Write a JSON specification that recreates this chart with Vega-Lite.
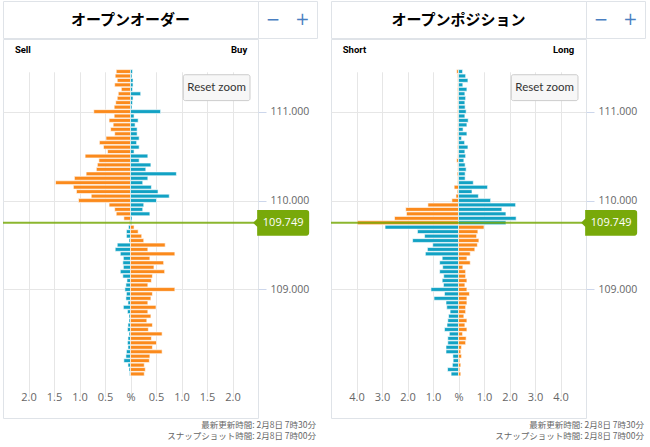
{
  "$schema": "https://vega.github.io/schema/vega-lite/v6.json",
  "padding": {"left": 1, "top": 0, "right": 0, "bottom": 0},
  "spacing": 11,
  "datasets": {
    "orders": [
      {"p":111.45,"s":-0.28,"b":0.04},{"p":111.40,"s":-0.30,"b":0.03},{"p":111.35,"s":-0.26,"b":0.05},{"p":111.30,"s":-0.31,"b":0.05},
      {"p":111.25,"s":-0.18,"b":0.04},{"p":111.20,"s":-0.24,"b":0.20},{"p":111.15,"s":-0.26,"b":0.05},{"p":111.10,"s":-0.29,"b":0.04},
      {"p":111.05,"s":-0.32,"b":0.03},{"p":111.00,"s":-0.72,"b":0.59},{"p":110.95,"s":-0.32,"b":0.07},{"p":110.90,"s":-0.42,"b":0.15},
      {"p":110.85,"s":-0.34,"b":0.09},{"p":110.80,"s":-0.39,"b":0.13},{"p":110.75,"s":-0.31,"b":0.13},{"p":110.70,"s":-0.48,"b":0.17},
      {"p":110.65,"s":-0.61,"b":0.12},{"p":110.60,"s":-0.53,"b":0.17},{"p":110.55,"s":-0.45,"b":0.07},{"p":110.50,"s":-0.89,"b":0.34},
      {"p":110.45,"s":-0.62,"b":0.17},{"p":110.40,"s":-0.65,"b":0.40},{"p":110.35,"s":-0.67,"b":0.30},{"p":110.30,"s":-0.87,"b":0.90},
      {"p":110.25,"s":-1.10,"b":0.34},{"p":110.20,"s":-1.47,"b":0.24},{"p":110.15,"s":-1.12,"b":0.41},{"p":110.10,"s":-1.06,"b":0.54},
      {"p":110.05,"s":-0.77,"b":0.76},{"p":110.00,"s":-1.02,"b":0.51},{"p":109.95,"s":-0.42,"b":0.26},{"p":109.90,"s":-0.31,"b":0.24},
      {"p":109.85,"s":-0.28,"b":0.38},{"p":109.80,"s":-0.13,"b":0.03},{"p":109.75,"s":-0.02,"b":0.02},{"p":109.70,"s":-0.04,"b":0.07},
      {"p":109.65,"s":-0.08,"b":0.15},{"p":109.60,"s":-0.08,"b":0.22},{"p":109.55,"s":-0.03,"b":0.26},{"p":109.50,"s":-0.26,"b":0.68},
      {"p":109.45,"s":-0.30,"b":0.34},{"p":109.40,"s":-0.20,"b":0.87},{"p":109.35,"s":-0.14,"b":0.38},{"p":109.30,"s":-0.15,"b":0.65},
      {"p":109.25,"s":-0.14,"b":0.46},{"p":109.20,"s":-0.20,"b":0.67},{"p":109.15,"s":-0.15,"b":0.43},{"p":109.10,"s":-0.07,"b":0.41},
      {"p":109.05,"s":-0.09,"b":0.34},{"p":109.00,"s":-0.11,"b":0.87},{"p":108.95,"s":-0.08,"b":0.43},{"p":108.90,"s":-0.09,"b":0.40},
      {"p":108.85,"s":-0.05,"b":0.34},{"p":108.80,"s":-0.14,"b":0.50},{"p":108.75,"s":-0.06,"b":0.34},{"p":108.70,"s":-0.03,"b":0.40},
      {"p":108.65,"s":-0.03,"b":0.32},{"p":108.60,"s":-0.05,"b":0.43},{"p":108.55,"s":-0.06,"b":0.35},{"p":108.50,"s":-0.03,"b":0.62},
      {"p":108.45,"s":-0.05,"b":0.41},{"p":108.40,"s":-0.06,"b":0.51},{"p":108.35,"s":-0.05,"b":0.43},{"p":108.30,"s":-0.08,"b":0.62},
      {"p":108.25,"s":-0.09,"b":0.38},{"p":108.20,"s":-0.13,"b":0.37},{"p":108.15,"s":-0.05,"b":0.27},{"p":108.10,"s":-0.03,"b":0.29},
      {"p":108.05,"s":-0.02,"b":0.27}
    ],
    "positions": [
      {"p":111.45,"s":-0.07,"b":0.16},{"p":111.40,"s":-0.04,"b":0.28},{"p":111.35,"s":-0.03,"b":0.37},{"p":111.30,"s":-0.03,"b":0.17},
      {"p":111.25,"s":-0.04,"b":0.33},{"p":111.20,"s":-0.03,"b":0.25},{"p":111.15,"s":-0.04,"b":0.28},{"p":111.10,"s":-0.03,"b":0.25},
      {"p":111.05,"s":-0.03,"b":0.26},{"p":111.00,"s":-0.04,"b":0.30},{"p":110.95,"s":-0.03,"b":0.25},{"p":110.90,"s":-0.03,"b":0.38},
      {"p":110.85,"s":-0.03,"b":0.33},{"p":110.80,"s":-0.03,"b":0.18},{"p":110.75,"s":-0.04,"b":0.33},{"p":110.70,"s":-0.03,"b":0.12},
      {"p":110.65,"s":-0.03,"b":0.24},{"p":110.60,"s":-0.04,"b":0.37},{"p":110.55,"s":-0.03,"b":0.25},{"p":110.50,"s":-0.03,"b":0.28},
      {"p":110.45,"s":-0.07,"b":0.21},{"p":110.40,"s":-0.03,"b":0.26},{"p":110.35,"s":-0.03,"b":0.30},{"p":110.30,"s":-0.05,"b":0.26},
      {"p":110.25,"s":-0.03,"b":0.26},{"p":110.20,"s":-0.04,"b":0.58},{"p":110.15,"s":-0.17,"b":1.14},{"p":110.10,"s":-0.05,"b":0.53},
      {"p":110.05,"s":-0.10,"b":0.78},{"p":110.00,"s":-0.26,"b":1.26},{"p":109.95,"s":-1.20,"b":2.24},{"p":109.90,"s":-2.07,"b":1.70},
      {"p":109.85,"s":-2.04,"b":1.86},{"p":109.80,"s":-2.51,"b":2.26},{"p":109.75,"s":-3.97,"b":1.86},{"p":109.70,"s":-2.88,"b":1.00},
      {"p":109.65,"s":-1.61,"b":0.76},{"p":109.60,"s":-1.33,"b":0.71},{"p":109.55,"s":-1.80,"b":0.80},{"p":109.50,"s":-1.01,"b":0.74},
      {"p":109.45,"s":-1.22,"b":0.64},{"p":109.40,"s":-1.30,"b":0.46},{"p":109.35,"s":-0.64,"b":0.33},{"p":109.30,"s":-0.74,"b":0.46},
      {"p":109.25,"s":-0.62,"b":0.17},{"p":109.20,"s":-0.74,"b":0.28},{"p":109.15,"s":-0.58,"b":0.28},{"p":109.10,"s":-0.64,"b":0.33},
      {"p":109.05,"s":-0.59,"b":0.25},{"p":109.00,"s":-1.08,"b":0.33},{"p":108.95,"s":-0.55,"b":0.43},{"p":108.90,"s":-0.96,"b":0.33},
      {"p":108.85,"s":-0.49,"b":0.33},{"p":108.80,"s":-0.46,"b":0.28},{"p":108.75,"s":-0.33,"b":0.28},{"p":108.70,"s":-0.39,"b":0.21},
      {"p":108.65,"s":-0.42,"b":0.33},{"p":108.60,"s":-0.45,"b":0.25},{"p":108.55,"s":-0.55,"b":0.33},{"p":108.50,"s":-0.36,"b":0.16},
      {"p":108.45,"s":-0.42,"b":0.30},{"p":108.40,"s":-0.42,"b":0.28},{"p":108.35,"s":-0.49,"b":0.12},{"p":108.30,"s":-0.49,"b":0.09},
      {"p":108.25,"s":-0.22,"b":0.12},{"p":108.20,"s":-0.21,"b":0.05},{"p":108.15,"s":-0.24,"b":0.09},{"p":108.10,"s":-0.43,"b":0.05},
      {"p":108.05,"s":-0.29,"b":0.09}
    ],
    "current": [{"price": 109.749}]
  },
  "hconcat": [
    {
      "spacing": -4,
      "vconcat": [
        {
          "spacing": 0,
          "bounds": "flush",
          "hconcat": [
            {
              "width": 255, "height": 37,
              "view": {"stroke": "#dfe3e8"},
              "data": {"values": [{"t": "オープンオーダー"}]},
              "mark": {"type": "text", "font": "Noto Sans CJK JP", "fontSize": 15, "fontWeight": "bold", "color": "#000000"},
              "encoding": {
                "x": {"datum": 0, "type": "quantitative", "scale": {"domain": [-1, 1]}, "axis": null},
                "text": {"field": "t"}
              }
            },
            {
              "width": 59, "height": 37,
              "view": {"stroke": "#dfe3e8"},
              "data": {"values": [{"b": "−"}, {"b": "+"}]},
              "mark": {"type": "text", "font": "DejaVu Sans", "fontSize": 17, "color": "#4a7fc1"},
              "encoding": {
                "x": {"field": "b", "type": "nominal", "scale": {"type": "point", "padding": 0.5, "domain": ["−", "+"]}, "axis": null},
                "text": {"field": "b"}
              }
            }
          ]
        },
        {
          "width": 255, "height": 379,
          "title": {"text": ["最新更新時間: 2月8日 7時30分", "スナップショット時間: 2月8日 7時00分"], "orient": "bottom", "anchor": "end", "frame": "group", "dx": 58, "font": "Noto Sans CJK JP", "fontSize": 8.5, "fontWeight": "normal", "color": "#666666", "lineHeight": 10.5, "offset": 3},
          "resolve": {"axis": {"x": "independent", "y": "independent"}},
          "layer": [
            {
              "data": {"name": "orders"},
              "mark": {"type": "bar", "size": 3.8, "stroke": "#ffffff", "strokeWidth": 0.6},
              "encoding": {
                "x": {"field": "s", "type": "quantitative", "scale": {"domain": [-2.5, 2.5], "nice": false, "zero": false},
                      "axis": {"orient": "bottom", "values": [-2, -1.5, -1, -0.5, 0, 0.5, 1, 1.5, 2], "labelExpr": "datum.value == 0 ? '%' : format(abs(datum.value), '.1f')", "offset": -29, "labelPadding": 2, "ticks": false, "domain": false, "grid": true, "title": null, "labelFlush": false}},
                "x2": {"datum": 0},
                "y": {"field": "p", "type": "quantitative", "scale": {"domain": [107.98, 111.52], "range": [346.2, 21.3], "nice": false, "zero": false},
                      "axis": {"orient": "right", "values": [109, 110, 111], "format": ".3f", "ticks": true, "tickSize": 8, "tickColor": "#ccd6eb", "labelPadding": 4, "labelFontSize": 10.5, "domain": false, "grid": true, "title": null}},
                "color": {"condition": {"test": "datum.p > 109.749", "value": "#fb8a1c"}, "value": "#12a2c4"}
              }
            },
            {
              "data": {"name": "orders"},
              "mark": {"type": "bar", "size": 3.8, "stroke": "#ffffff", "strokeWidth": 0.6},
              "encoding": {
                "x": {"field": "b", "type": "quantitative",
                      "axis": {"orient": "top", "values": [-2.12, 2.12], "labelExpr": "datum.value < 0 ? 'Sell' : 'Buy'", "offset": -15, "labelPadding": 1.5, "labelBaseline": "alphabetic", "ticks": false, "domain": false, "grid": false, "title": null, "labelFlush": false, "labelFont": "Roboto", "labelFontWeight": "bold", "labelFontSize": 9.5, "labelColor": "#000000"}},
                "x2": {"datum": 0},
                "y": {"field": "p", "type": "quantitative", "axis": null},
                "color": {"condition": {"test": "datum.p > 109.749", "value": "#12a2c4"}, "value": "#fb8a1c"}
              }
            },
            {
              "data": {"name": "current"},
              "mark": {"type": "rule", "color": "#78a90a", "strokeWidth": 2, "opacity": 0.85},
              "encoding": {"y": {"field": "price", "type": "quantitative", "axis": null}}
            },
            {
              "data": {"name": "current"},
              "mark": {"type": "point", "shape": "M-1,0L-0.857,-0.143L-0.857,-0.457L0.9,-0.457Q1,-0.457 1,-0.357L1,0.357Q1,0.457 0.9,0.457L-0.857,0.457L-0.857,0.143Z", "size": 3136, "filled": true, "color": "#78a90a", "opacity": 1, "strokeWidth": 0},
              "encoding": {"x": {"datum": 2.954, "axis": null}, "y": {"field": "price", "type": "quantitative", "axis": null}}
            },
            {
              "data": {"name": "current"},
              "mark": {"type": "text", "color": "#ffffff", "font": "Open Sans", "fontSize": 11},
              "encoding": {"x": {"datum": 2.993, "axis": null}, "y": {"field": "price", "type": "quantitative", "axis": null}, "text": {"field": "price", "type": "quantitative", "format": ".3f"}}
            },
            {
              "data": {"values": [{"label": "Reset zoom"}]},
              "mark": {"type": "rect", "fill": "#f7f7f7", "stroke": "#cccccc", "strokeWidth": 1, "cornerRadius": 2},
              "encoding": {"x": {"datum": 1.035, "axis": null}, "x2": {"datum": 2.343}, "y": {"datum": 111.414, "axis": null}, "y2": {"datum": 111.123}}
            },
            {
              "data": {"values": [{"label": "Reset zoom"}]},
              "mark": {"type": "text", "color": "#333333", "font": "Lato", "fontSize": 11.5},
              "encoding": {"x": {"datum": 1.689, "axis": null}, "y": {"datum": 111.268, "axis": null}, "text": {"field": "label"}}
            }
          ]
        }
      ]
    },
    {
      "spacing": -4,
      "vconcat": [
        {
          "spacing": 0,
          "bounds": "flush",
          "hconcat": [
            {
              "width": 255, "height": 37,
              "view": {"stroke": "#dfe3e8"},
              "data": {"values": [{"t": "オープンポジション"}]},
              "mark": {"type": "text", "font": "Noto Sans CJK JP", "fontSize": 15, "fontWeight": "bold", "color": "#000000"},
              "encoding": {
                "x": {"datum": 0, "type": "quantitative", "scale": {"domain": [-1, 1]}, "axis": null},
                "text": {"field": "t"}
              }
            },
            {
              "width": 59, "height": 37,
              "view": {"stroke": "#dfe3e8"},
              "data": {"values": [{"b": "−"}, {"b": "+"}]},
              "mark": {"type": "text", "font": "DejaVu Sans", "fontSize": 17, "color": "#4a7fc1"},
              "encoding": {
                "x": {"field": "b", "type": "nominal", "scale": {"type": "point", "padding": 0.5, "domain": ["−", "+"]}, "axis": null},
                "text": {"field": "b"}
              }
            }
          ]
        },
        {
          "width": 255, "height": 379,
          "title": {"text": ["最新更新時間: 2月8日 7時30分", "スナップショット時間: 2月8日 7時00分"], "orient": "bottom", "anchor": "end", "frame": "group", "dx": 58, "font": "Noto Sans CJK JP", "fontSize": 8.5, "fontWeight": "normal", "color": "#666666", "lineHeight": 10.5, "offset": 3},
          "resolve": {"axis": {"x": "independent", "y": "independent"}},
          "layer": [
            {
              "data": {"name": "positions"},
              "mark": {"type": "bar", "size": 3.8, "stroke": "#ffffff", "strokeWidth": 0.6},
              "encoding": {
                "x": {"field": "s", "type": "quantitative", "scale": {"domain": [-5, 5], "nice": false, "zero": false},
                      "axis": {"orient": "bottom", "values": [-4, -3, -2, -1, 0, 1, 2, 3, 4], "labelExpr": "datum.value == 0 ? '%' : format(abs(datum.value), '.1f')", "offset": -29, "labelPadding": 2, "ticks": false, "domain": false, "grid": true, "title": null, "labelFlush": false}},
                "x2": {"datum": 0},
                "y": {"field": "p", "type": "quantitative", "scale": {"domain": [107.98, 111.52], "range": [346.2, 21.3], "nice": false, "zero": false},
                      "axis": {"orient": "right", "values": [109, 110, 111], "format": ".3f", "ticks": true, "tickSize": 8, "tickColor": "#ccd6eb", "labelPadding": 4, "labelFontSize": 10.5, "domain": false, "grid": true, "title": null}},
                "color": {"condition": {"test": "datum.p > 109.749", "value": "#fb8a1c"}, "value": "#12a2c4"}
              }
            },
            {
              "data": {"name": "positions"},
              "mark": {"type": "bar", "size": 3.8, "stroke": "#ffffff", "strokeWidth": 0.6},
              "encoding": {
                "x": {"field": "b", "type": "quantitative",
                      "axis": {"orient": "top", "values": [-4.1, 4.1], "labelExpr": "datum.value < 0 ? 'Short' : 'Long'", "offset": -15, "labelPadding": 1.5, "labelBaseline": "alphabetic", "ticks": false, "domain": false, "grid": false, "title": null, "labelFlush": false, "labelFont": "Roboto", "labelFontWeight": "bold", "labelFontSize": 9.5, "labelColor": "#000000"}},
                "x2": {"datum": 0},
                "y": {"field": "p", "type": "quantitative", "axis": null},
                "color": {"condition": {"test": "datum.p > 109.749", "value": "#12a2c4"}, "value": "#fb8a1c"}
              }
            },
            {
              "data": {"name": "current"},
              "mark": {"type": "rule", "color": "#78a90a", "strokeWidth": 2, "opacity": 0.85},
              "encoding": {"y": {"field": "price", "type": "quantitative", "axis": null}}
            },
            {
              "data": {"name": "current"},
              "mark": {"type": "point", "shape": "M-1,0L-0.857,-0.143L-0.857,-0.457L0.9,-0.457Q1,-0.457 1,-0.357L1,0.357Q1,0.457 0.9,0.457L-0.857,0.457L-0.857,0.143Z", "size": 3136, "filled": true, "color": "#78a90a", "opacity": 1, "strokeWidth": 0},
              "encoding": {"x": {"datum": 5.908, "axis": null}, "y": {"field": "price", "type": "quantitative", "axis": null}}
            },
            {
              "data": {"name": "current"},
              "mark": {"type": "text", "color": "#ffffff", "font": "Open Sans", "fontSize": 11},
              "encoding": {"x": {"datum": 5.986, "axis": null}, "y": {"field": "price", "type": "quantitative", "axis": null}, "text": {"field": "price", "type": "quantitative", "format": ".3f"}}
            },
            {
              "data": {"values": [{"label": "Reset zoom"}]},
              "mark": {"type": "rect", "fill": "#f7f7f7", "stroke": "#cccccc", "strokeWidth": 1, "cornerRadius": 2},
              "encoding": {"x": {"datum": 2.07, "axis": null}, "x2": {"datum": 4.686}, "y": {"datum": 111.414, "axis": null}, "y2": {"datum": 111.123}}
            },
            {
              "data": {"values": [{"label": "Reset zoom"}]},
              "mark": {"type": "text", "color": "#333333", "font": "Lato", "fontSize": 11.5},
              "encoding": {"x": {"datum": 3.378, "axis": null}, "y": {"datum": 111.268, "axis": null}, "text": {"field": "label"}}
            }
          ]
        }
      ]
    }
  ],
  "config": {
    "view": {"stroke": "#dfe3e8", "strokeWidth": 1},
    "axis": {"labelFont": "Open Sans", "labelFontSize": 11, "labelColor": "#666666", "gridColor": "#e6e6e6", "gridWidth": 1, "labelOverlap": false}
  }
}
